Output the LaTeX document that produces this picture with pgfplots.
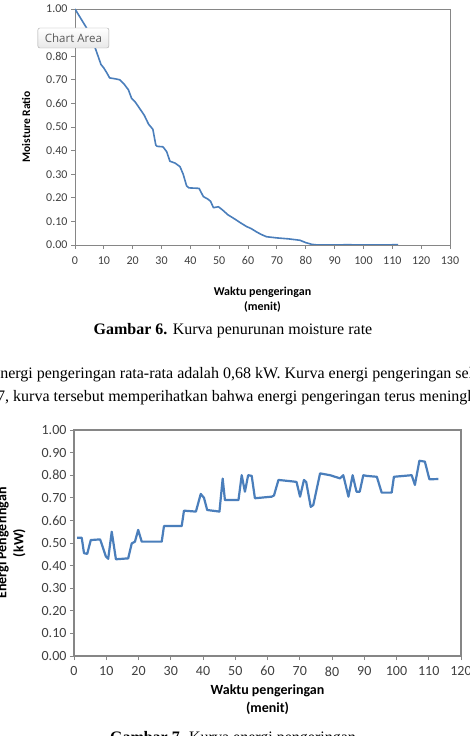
\documentclass[border=0pt]{standalone}
\usepackage{pgfplots}
\pgfplotsset{compat=1.18}
\usepackage{fontspec}
\setmainfont{Carlito}
\newfontfamily\pagefont{Liberation Serif}
\newfontfamily\tipfont{Open Sans}
\definecolor{excelblue}{HTML}{4A7EBB}
\definecolor{axgray}{HTML}{868686}
\definecolor{ticktext}{HTML}{404040}
\pgfplotsset{excelaxis/.style={
  scale only axis,
  axis line style={axgray, line width=0.9pt},
  tick style={axgray, line width=0.9pt},
  tick align=outside, xtick pos=bottom, ytick pos=left,
  major tick length=4pt,
  /pgf/number format/assume math mode=true,
  tick label style={text=ticktext},
  yticklabel style={/pgf/number format/fixed, /pgf/number format/fixed zerofill, /pgf/number format/precision=2},
  xticklabel style={/pgf/number format/fixed},
  clip=true,
}}
\begin{document}
\begin{tikzpicture}[x=1pt,y=1pt]
\path[use as bounding box] (0,0) rectangle (469,736);
\clip (0,0) rectangle (469,736);
\fill[white] (0,0) rectangle (469,736);

% ---------- Top chart ----------
\begin{axis}[excelaxis,
  at={(75pt,491pt)}, anchor=south west,
  width=375pt, height=236pt,
  xmin=0, xmax=130, xtick distance=10,
  ymin=0, ymax=1, ytick distance=0.1,
  tick label style={font=\fontsize{12}{12}\selectfont},
  xticklabel style={yshift=-4pt},
  xlabel={Waktu pengeringan\\(menit)},
  xlabel style={at={(axis description cs:0.5,-0.178)}, anchor=north, align=center, font=\bfseries\fontsize{12}{15}\selectfont, inner sep=0pt},
  ylabel={Moisture Ratio},
  ylabel style={at={(axis description cs:-0.13,0.5)}, anchor=center, font=\bfseries\fontsize{11.5}{12}\selectfont, inner sep=0pt},
]
\addplot[excelblue, line width=1.6pt, line join=round] coordinates {
(0,1.00) (2,0.96) (4,0.92) (6,0.87) (8,0.80) (9,0.765) (10,0.75) (11,0.73)
(12,0.708) (14,0.704) (15.5,0.700) (17,0.682) (18.5,0.658) (19.6,0.622)
(20.8,0.607) (22,0.586) (24,0.55) (25.5,0.512) (27,0.490) (28,0.424)
(28.5,0.418) (30.5,0.416) (31.8,0.395) (32.9,0.355) (34.7,0.347) (36.4,0.332)
(37.5,0.30) (38.7,0.250) (39.5,0.242) (43,0.240) (44.5,0.205) (46,0.195)
(47,0.185) (48,0.158) (49.7,0.162) (51,0.150) (53,0.128) (55,0.113)
(57.5,0.093) (59.5,0.078) (61,0.070) (63,0.055) (64.5,0.045) (66.4,0.035)
(70,0.030) (74,0.026) (78,0.020) (80,0.010) (82,0.003) (84,0.000)
(95,0.001) (100,0.000) (112,0.001)
};
\end{axis}

% Chart Area tooltip
\node[draw=gray!70, rounded corners=2pt, top color=white, bottom color=gray!18,
      minimum width=71pt, minimum height=20pt, inner sep=0pt,
      font=\tipfont\fontsize{11.5}{12}\selectfont, text=black!65]
  at (73.4,698) {Chart Area};

% Caption and body text
\node[anchor=base, font=\pagefont\fontsize{16}{18}\selectfont] at (233,401)
  {\textbf{Gambar 6.} Kurva penurunan moisture rate};
\node[anchor=base west, font=\pagefont\fontsize{16}{18}\selectfont, inner sep=0pt] at (-7,357)
  {energi pengeringan rata-rata adalah 0,68 kW. Kurva energi pengeringan selama};
\node[anchor=base west, font=\pagefont\fontsize{16}{18}\selectfont, inner sep=0pt] at (-3,334)
  {7, kurva tersebut memperihatkan bahwa energi pengeringan terus meningkat};

% ---------- Bottom chart ----------
\begin{axis}[excelaxis,
  at={(74pt,80pt)}, anchor=south west,
  width=387pt, height=226pt,
  axis line style={axgray, line width=1.1pt},
  xmin=0, xmax=120, xtick distance=10,
  ymin=0, ymax=1, ytick distance=0.1,
  tick label style={font=\fontsize{14}{14}\selectfont},
  xticklabel style={yshift=-3pt},
  xlabel={Waktu pengeringan\\(menit)},
  xlabel style={at={(axis description cs:0.5,-0.128)}, anchor=north, align=center, font=\bfseries\fontsize{14}{18}\selectfont, inner sep=0pt},
  ylabel={Energi Pengeringan\\(kW)},
  ylabel style={at={(axis description cs:-0.163,0.5)}, anchor=center, align=center, font=\bfseries\fontsize{14}{17}\selectfont, inner sep=0pt},
]
\addplot[excelblue, line width=2.2pt, line join=round] coordinates {
(1,0.523) (2.4,0.523) (3.1,0.455) (4.1,0.452) (5.2,0.513) (8.1,0.516)
(9.9,0.44) (10.6,0.430) (11.7,0.55) (13,0.428) (16.8,0.432) (17.9,0.498)
(18.9,0.506) (19.9,0.558) (21,0.506) (27.2,0.506) (27.9,0.575) (33.4,0.575)
(34.1,0.643) (37.8,0.639) (39.3,0.717) (40.3,0.70) (41.3,0.646) (45.1,0.639)
(46.1,0.785) (46.8,0.69) (51,0.690) (52,0.800) (53,0.727) (54,0.800)
(55.1,0.797) (56.1,0.698) (61.3,0.705) (62,0.71) (63.4,0.779) (68.1,0.772)
(69,0.77) (70.1,0.705) (71.3,0.779) (72,0.77) (73.4,0.66) (74.2,0.668)
(76.3,0.808) (79.4,0.800) (82.5,0.786) (83.5,0.80) (85.1,0.705) (86.4,0.80)
(87.6,0.727) (88.6,0.727) (89.7,0.80) (90.7,0.797) (93.9,0.793) (95.4,0.723)
(98.5,0.723) (99.2,0.793) (104.7,0.800) (105.7,0.757) (107.1,0.864)
(108.8,0.86) (110.2,0.782) (113,0.783)
};
\end{axis}

\node[anchor=base, font=\pagefont\fontsize{16}{18}\selectfont] at (233,-6)
  {\textbf{Gambar 7.} Kurva energi pengeringan};
\end{tikzpicture}
\end{document}
